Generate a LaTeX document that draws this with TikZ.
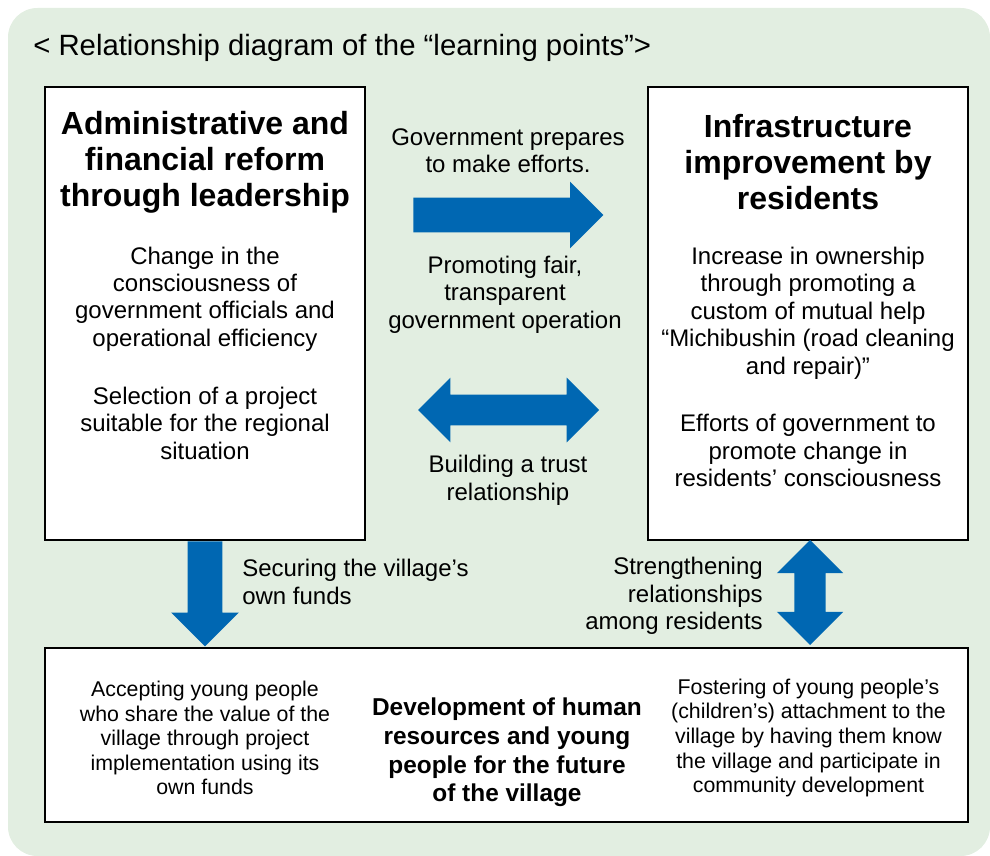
\documentclass[tikz,border=0pt]{standalone}
\usepackage{fontspec}
\setmainfont{Liberation Sans}
\usetikzlibrary{shapes.arrows,
	calc,
	positioning}
\definecolor{panelgreen}{RGB}{226,238,225}
\definecolor{arrowblue}{RGB}{0,103,178}
\tikzstyle{panel}=[draw, line width=1.6pt, fill=white, inner sep=0]
\tikzstyle{hd}=[font=\fontsize{24}{27}\selectfont\bfseries, align=center, inner sep=0]
\tikzstyle{txt}=[font=\fontsize{18}{20.6}\selectfont, align=center, inner sep=0]
\tikzstyle{sm}=[font=\fontsize{16}{18.4}\selectfont, align=center, inner sep=0]
\tikzstyle{bighd}=[font=\fontsize{18.3}{21.4}\selectfont\bfseries, align=center, inner sep=0]
\tikzstyle{blk}=[fill=arrowblue, inner sep=0]

\begin{document}
\begin{tikzpicture}[x=0.75pt, y=-0.75pt]
	\useasboundingbox (0,0) rectangle (990,856);
	\fill[panelgreen, rounded corners=22pt] (8,8) rectangle (990,856);
	\node[anchor=west, inner sep=0, font=\fontsize{22}{24}\selectfont] (title) at (33,48)
		{< Relationship diagram of the “learning points”>};

	% the three boxes
	\node[panel, minimum width=240pt, minimum height=339.75pt] (admin) at (205,313.5) {};
	\node[panel, minimum width=240pt, minimum height=339.75pt] (infra) at (808,313.5) {};
	\node[panel, minimum width=692.25pt, minimum height=130.5pt] (future) at (506.5,735) {};

	% left box
	\node[hd] (adminhd) at (205,162.5) {Administrative and\\financial reform\\through leadership};
	\node[txt] (adminA) at (205,299) {Change in the\\consciousness of\\government officials and\\operational efficiency};
	\node[txt] (adminB) at (205,423) {Selection of a project\\suitable for the regional\\situation};

	% right box
	\node[hd] (infrahd) at (808,162.5) {Infrastructure\\improvement by\\residents};
	\node[txt] (infraA) at (808,313) {Increase in ownership\\through promoting a\\custom of mutual help\\“Michibushin (road cleaning\\and repair)”};
	\node[txt] (infraB) at (808,450.5) {Efforts of government to\\promote change in\\residents’ consciousness};

	% arrows between the boxes
	\node[blk, single arrow, minimum height=142.5pt, inner ysep=12.75pt,
		single arrow head extend=12pt, anchor=tail] (push) at (413,215) {};
	\node[blk, double arrow, minimum height=135.75pt, inner ysep=11.25pt,
		double arrow head extend=12.75pt] (trust) at (508.5,410) {};
	\node[blk, single arrow, minimum height=78.75pt, inner ysep=12.75pt,
		single arrow head extend=12.4pt, rotate=-90, anchor=tail] (funds) at (admin.south) {};
	\node[blk, double arrow, minimum height=78.75pt, inner ysep=11.6pt,
		double arrow head extend=13.1pt, rotate=90] (bond) at (810,592.5) {};

	\node[txt] (pushA) at (508,151) {Government prepares\\to make efforts.};
	\node[txt] (pushB) at (505,294.5) {Promoting fair,\\transparent\\government operation};
	\node[txt] (trustlbl) at (508,480.5) {Building a trust\\relationship};
	\node[txt, align=left, anchor=west] (fundslbl) at (242,582) {Securing the village’s\\own funds};
	\node[txt, align=right, anchor=east] (bondlbl) at (763,596) {Strengthening\\relationships\\among residents};

	% bottom box
	\node[sm] (futureA) at (205,738) {Accepting young people\\who share the value of the\\village through project\\implementation using its\\own funds};
	\node[bighd] (futurehd) at (507,752.5) {Development of human\\resources and young\\people for the future\\of the village};
	\node[sm] (futureB) at (808.5,738) {Fostering of young people’s\\(children’s) attachment to the\\village by having them know\\the village and participate in\\community development};
\end{tikzpicture}
\end{document}
